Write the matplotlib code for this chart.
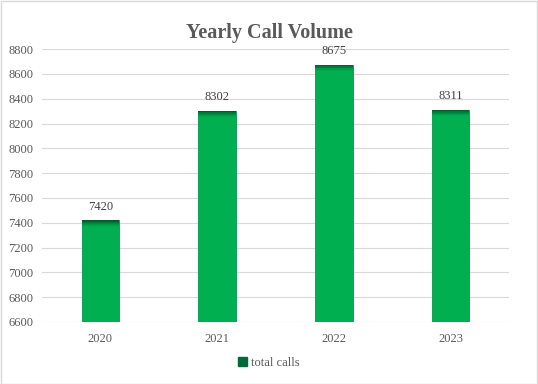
import matplotlib
matplotlib.use("Agg")
import matplotlib.pyplot as plt
import numpy as np
from matplotlib.patches import Rectangle, Patch

years = ["2020", "2021", "2022", "2023"]
total_calls = [7420, 8302, 8675, 8311]
yticks = [6600, 6800, 7000, 7200, 7400, 7600, 7800, 8000, 8200, 8400, 8600, 8800]

plt.rcParams['font.family'] = ['Liberation Serif', 'DejaVu Serif']

fig = plt.figure(figsize=(5.38, 3.84), dpi=100)
fig.patches.append(Rectangle((0.001, 0.001), 0.997, 0.997, transform=fig.transFigure,
                             fill=False, edgecolor='#d9d9d9', linewidth=1.0))
ax = fig.add_axes([0.078, 0.1615, 0.868, 0.7105])

x = np.arange(len(years))
width = 0.32
ax.bar(x, total_calls, width=width, color='#00B050', edgecolor='#00994a',
       linewidth=0.6, zorder=2, label='total calls')

# darker gradient cap at top of each bar
n = 10
cap = 60.0
c0 = np.array([0x00, 0xB0, 0x50]) / 255
c1 = np.array([0x00, 0x5a, 0x2a]) / 255
for xi, v in zip(x, total_calls):
    for k in range(n):
        frac = (k / (n - 1)) ** 1.5
        col = c0 + (c1 - c0) * frac
        ax.bar(xi, cap / n, bottom=v - cap + k * cap / n, width=width, color=col,
               linewidth=0, zorder=3)

for xi, v in zip(x, total_calls):
    ax.text(xi, v + 60, str(v), ha='center', va='bottom', fontsize=9, color='#404040')

ax.set_ylim(6600, 8800)
ax.set_yticks(yticks)
ax.set_yticklabels([str(t) for t in yticks], fontsize=9, color='#595959')
ax.set_xticks(x)
ax.set_xticklabels(years, fontsize=9, color='#595959')
ax.set_xlim(-0.5, len(years) - 0.5)
ax.grid(axis='y', color='#d9d9d9', linewidth=0.8, zorder=0)
ax.set_axisbelow(True)
for s in ax.spines.values():
    s.set_visible(False)
ax.tick_params(axis='both', length=0, pad=6)
ax.tick_params(axis='x', pad=8)

fig.text(0.5, 0.915, "Yearly Call Volume", ha='center', va='center', fontsize=14.5,
         fontweight='bold', color='#595959')

leg = fig.legend(handles=[Patch(color='#006b36', label='total calls')], loc='center',
                 bbox_to_anchor=(0.5, 0.055), frameon=False, fontsize=9,
                 handlelength=0.7, handleheight=0.7, handletextpad=0.3)
for t in leg.get_texts():
    t.set_color('#595959')

fig.savefig("out.png", dpi=100)
